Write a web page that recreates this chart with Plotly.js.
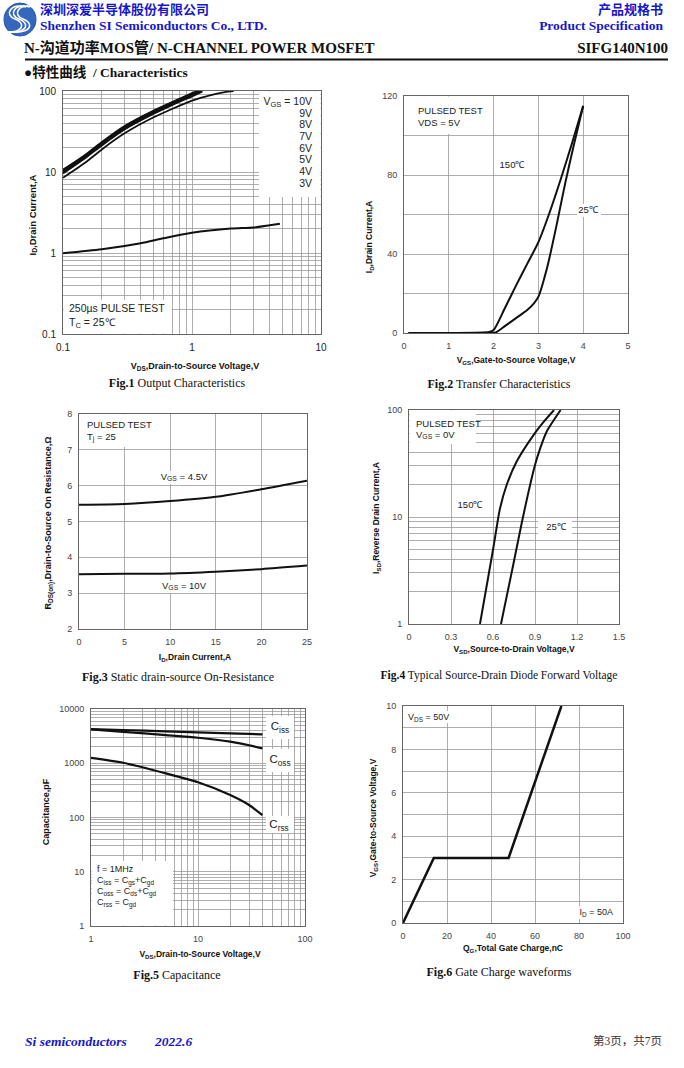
<!DOCTYPE html>
<html><head><meta charset="utf-8">
<script src="https://cdn.plot.ly/plotly-3.0.1.min.js"></script>
<style>
html,body{margin:0;padding:0;background:#fff}
#page{position:relative;width:684px;height:1068px;overflow:hidden}
#chart{position:absolute;left:0;top:0;width:684px;height:1068px}
#overlay{position:absolute;left:0;top:0;width:684px;height:1068px;pointer-events:none}
.t{position:absolute;white-space:nowrap;line-height:1.15}
.t sub{font-size:72%;vertical-align:-0.28em;line-height:0}
</style>
</head><body><div id="page"><div id="chart"></div><div id="overlay"></div></div>
<script>
// ---------------- DATA ----------------
// Fig.1 Output characteristics (log-log)
const fig1_vds = [0.1, 0.15, 0.2, 0.3, 0.5, 0.7, 1.0, 1.2];
const fig1_id_10V = [10.7, 16.5, 23.5, 37.0, 57, 73.0, 94.0, 106];
const fig1_id_9V  = [10.5, 16.2, 23.0, 36.3, 56, 72.0, 92.5, 104];
const fig1_id_8V  = [10.3, 15.9, 22.6, 35.6, 55, 70.5, 91.0, 103];
const fig1_id_7V  = [10.1, 15.6, 22.2, 35.0, 54, 69.5, 89.5, 101];
const fig1_id_6V  = [9.9, 15.3, 21.8, 34.3, 53, 68.0, 88.0, 100];
const fig1_id_5V  = [9.6, 15.0, 21.3, 33.5, 52, 67.0, 86.0, 98];
const fig1_vds_4V = [0.1, 0.15, 0.2, 0.3, 0.5, 0.7, 1.0, 1.4, 1.8, 2.1];
const fig1_id_4V  = [8.5, 13.2, 19.0, 30.0, 47, 60, 76, 89, 97, 100];
const fig1_vds_3V = [0.1, 0.2, 0.4, 0.6, 1.0, 2.0, 3.0, 4.0, 4.8];
const fig1_id_3V  = [0.99, 1.11, 1.32, 1.52, 1.78, 2.0, 2.06, 2.2, 2.3];
const fig1_labels = ['V<sub>GS</sub> = 10V', '9V', '8V', '7V', '6V', '5V', '4V', '3V'];
const fig1_xticks = [0.1, 1, 10];
const fig1_yticks = [0.1, 1, 10, 100];
const fig1_xgrid = [0.2,0.3,0.4,0.5,0.6,0.7,0.8,0.9,2,3,4,5,6,7,8,9];
const fig1_ygrid = [0.2,0.3,0.4,0.5,0.6,0.7,0.8,0.9,2,3,4,5,6,7,8,9,20,30,40,50,60,70,80,90];

// Fig.2 Transfer characteristics
const fig2_vgs_150 = [0.1, 1.0, 1.9, 2.0, 2.25, 2.5, 2.75, 3.0, 3.25, 3.5, 3.75, 4.0];
const fig2_id_150  = [0, 0, 0.5, 1.5, 12.5, 24, 35, 46, 61, 78, 96, 115];
const fig2_vgs_25  = [0.1, 1.0, 1.9, 2.05, 2.25, 2.5, 2.75, 2.9, 3.0, 3.2, 3.4, 3.6, 3.8, 4.0];
const fig2_id_25   = [0, 0, 0, 0.3, 3.5, 7.5, 11.6, 15, 18.4, 33.6, 54, 76, 96, 115];
const fig2_xticks = [0, 1, 2, 3, 4, 5];
const fig2_yticks = [0, 40, 80, 120];
const fig2_ygrid = [20, 60, 100];

// Fig.3 On-resistance
const fig3_id = [0, 5, 10, 15, 20, 25];
const fig3_r_4v5 = [5.47, 5.49, 5.57, 5.69, 5.90, 6.14];
const fig3_r_10v = [3.53, 3.54, 3.55, 3.60, 3.67, 3.77];
const fig3_xticks = [0, 5, 10, 15, 20, 25];
const fig3_yticks = [2, 3, 4, 5, 6, 7, 8];

// Fig.4 Source-drain diode forward voltage
const fig4_vsd_150 = [0.507, 0.602, 0.650, 0.698, 0.769, 0.888, 0.96, 1.036];
const fig4_is_150  = [1, 5.1, 12, 20, 33, 58, 77, 100];
const fig4_vsd_25  = [0.657, 0.745, 0.817, 0.900, 0.94, 0.983, 1.083];
const fig4_is_25   = [1, 3.6, 10.4, 30.6, 45, 62.7, 100];
const fig4_xticks = [0, 0.3, 0.6, 0.9, 1.2, 1.5];
const fig4_xlabels = ['0', '0.3', '0.6', '0.9', '1.2', '1.5'];
const fig4_yticks = [1, 10, 100];
const fig4_ygrid = [2,3,4,5,6,7,8,9,20,30,40,50,60,70,80,90];

// Fig.5 Capacitance
const fig5_vds  = [1, 2, 5, 10, 20, 30, 40];
const fig5_ciss = [4270, 4100, 3880, 3720, 3560, 3470, 3415];
const fig5_coss = [4200, 3800, 3300, 2950, 2500, 2150, 1880];
const fig5_crss = [1260, 1020, 650, 445, 260, 170, 111];
const fig5_xticks = [1, 10, 100];
const fig5_yticks = [1, 10, 100, 1000, 10000];
const fig5_xgrid = [2,3,4,5,6,7,8,9,20,30,40,50,60,70,80,90];
const fig5_ygrid = [2,3,4,5,6,7,8,9,20,30,40,50,60,70,80,90,200,300,400,500,600,700,800,900,2000,3000,4000,5000,6000,7000,8000,9000];

// Fig.6 Gate charge
const fig6_qg  = [0, 14, 48, 72];
const fig6_vgs = [0, 3, 3, 10];
const fig6_xticks = [0, 20, 40, 60, 80, 100];
const fig6_yticks = [0, 2, 4, 6, 8, 10];
const fig6_ygrid = [1, 3, 5, 7, 9];

// ---------------- HELPERS ----------------
const W = 684, H = 1068;
const X = p => p / W, Y = p => 1 - p / H;
const SANS = '"Liberation Sans", Arial, Helvetica, sans-serif';
const SERIF = '"Liberation Serif", "Times New Roman", "Noto Sans CJK SC", serif';
const CJK = '"Noto Sans CJK SC", "Liberation Serif", sans-serif';
const BLUE = '#1616cc';
const GRID = '#9a9a9a';

// plot areas in page pixels: [left, right, top, bottom]
const P = {1:[63,321,91,334], 2:[404,628,96,333], 3:[79,307,414,629], 4:[409,619,410,624], 5:[91,305,709,926], 6:[403,623,706,923]};
const dom = k => ({x:[X(P[k][0]), X(P[k][1])], y:[Y(P[k][3]), Y(P[k][2])]});
const xr = k => k === 1 ? 'x' : 'x' + k;
const yr = k => k === 1 ? 'y' : 'y' + k;

function ax(k, isX, ticks, labels, minorVals, extra) {
  const d = dom(k);
  const a = {
    domain: isX ? d.x : d.y,
    anchor: isX ? yr(k) : xr(k),
    showline: true, mirror: true, linecolor: '#666', linewidth: 1,
    showgrid: true, gridcolor: GRID, gridwidth: 0.8, zeroline: false,
    ticks: 'outside', ticklen: 4, tickcolor: 'rgba(0,0,0,0)',
    tickfont: {family: SANS, size: 9, color: '#444'},
    tickmode: 'array', tickvals: ticks, ticktext: labels || ticks.map(String),
    fixedrange: true
  };
  if (minorVals) a.minor = {tickmode: 'array', tickvals: minorVals, showgrid: true, gridcolor: GRID, gridwidth: 0.8, ticks: ''};
  return Object.assign(a, extra || {});
}

function tr(x, y, k, width, shape) {
  return {x, y, xaxis: xr(k), yaxis: yr(k), mode: 'lines', hoverinfo: 'skip', showlegend: false,
    line: {color: '#111', width: width, shape: shape || 'spline', smoothing: 0.7}};
}

// white label boxes, in page pixels
function box(x0, x1, y0, y1) {
  return {type: 'rect', xref: 'paper', yref: 'paper',
    x0: X(x0), x1: X(x1), y0: Y(y1), y1: Y(y0),
    fillcolor: '#fff', line: {width: 0}};
}

// text labels as positioned page text
const overlay = document.getElementById('overlay');
function lbl(html, x, y, o) {
  o = o || {};
  const d = document.createElement('div');
  d.className = 't';
  d.innerHTML = html;
  const a = o.xa || 'center';
  const tx = a === 'left' ? '0' : (a === 'right' ? '-100%' : '-50%');
  d.style.left = x + 'px';
  d.style.top = y + 'px';
  d.style.transform = o.rot ? 'translate(-50%,-50%) rotate(-90deg)' : 'translate(' + tx + ',-50%)';
  d.style.transformOrigin = '50% 50%';
  d.style.fontFamily = o.family || SANS;
  d.style.fontSize = (o.size || 10) + 'px';
  d.style.color = o.color || '#222';
  overlay.appendChild(d);
}

// ---------------- TRACES ----------------
const data = [
  tr(fig1_vds, fig1_id_10V, 1, 1.8), tr(fig1_vds, fig1_id_9V, 1, 1.8), tr(fig1_vds, fig1_id_8V, 1, 1.8),
  tr(fig1_vds, fig1_id_7V, 1, 1.8), tr(fig1_vds, fig1_id_6V, 1, 1.8), tr(fig1_vds, fig1_id_5V, 1, 1.8),
  tr(fig1_vds_4V, fig1_id_4V, 1, 1.8), tr(fig1_vds_3V, fig1_id_3V, 1, 2),
  tr(fig2_vgs_150, fig2_id_150, 2, 2), tr(fig2_vgs_25, fig2_id_25, 2, 2),
  tr(fig3_id, fig3_r_4v5, 3, 2), tr(fig3_id, fig3_r_10v, 3, 2),
  tr(fig4_vsd_150, fig4_is_150, 4, 2), tr(fig4_vsd_25, fig4_is_25, 4, 2),
  tr(fig5_vds, fig5_ciss, 5, 2.2), tr(fig5_vds, fig5_coss, 5, 2.2), tr(fig5_vds, fig5_crss, 5, 2.2),
  tr(fig6_qg, fig6_vgs, 6, 2.5, 'linear')
];

// ---------------- SHAPES ----------------
const shapes = [
  box(259, 320.5, 91.6, 197), box(63.6, 172, 300, 333.4),
  box(404.6, 480, 96.6, 134),
  box(79.6, 152, 414.6, 447),
  box(409.6, 476, 410.6, 444), box(538, 572, 520, 535),
  box(266, 294, 716, 739), box(266, 294, 749, 772), box(266, 294, 816, 833), box(91.6, 173, 861, 925.4),
  box(405, 452, 711, 723), box(577, 618, 906, 919),
  box(577, 601, 204, 217), box(163, 206, 471, 484), box(163, 206, 580, 593),
  // header rule
  {type: 'line', xref: 'paper', yref: 'paper', x0: X(25), x1: X(668), y0: Y(59.5), y1: Y(59.5), line: {color: '#111', width: 2.2}},
  // logo
  {type: 'circle', xref: 'paper', yref: 'paper', x0: X(4), x1: X(36), y0: Y(36), y1: Y(3), fillcolor: '#3567bd', line: {color: '#2a58a8', width: 1}}
];
[-4, 0, 4].forEach(d => {
  const p = (x, y) => X(x + d).toFixed(5) + ',' + Y(y).toFixed(5);
  shapes.push({type: 'path', xref: 'paper', yref: 'paper',
    path: 'M' + p(30, 7) + ' C' + p(14, 3) + ' ' + p(8, 15) + ' ' + p(19, 19) + ' C' + p(30, 23) + ' ' + p(28, 33) + ' ' + p(9, 32),
    line: {color: '#fff', width: 1.6}});
});

// ---------------- LAYOUT ----------------
const F1 = {tickfont: {family: SANS, size: 10, color: '#222'}};
const layout = {
  width: W, height: H, margin: {l: 0, r: 0, t: 0, b: 0},
  paper_bgcolor: '#fff', plot_bgcolor: '#fff', showlegend: false,
  font: {family: SANS},
  xaxis:  ax(1, true,  fig1_xticks, null, fig1_xgrid, Object.assign({type: 'log', range: [-1, 1]}, F1)),
  yaxis:  ax(1, false, fig1_yticks, null, fig1_ygrid, Object.assign({type: 'log', range: [-1, 2]}, F1)),
  xaxis2: ax(2, true,  fig2_xticks, null, null, {range: [0, 5]}),
  yaxis2: ax(2, false, fig2_yticks, null, fig2_ygrid, {range: [0, 120]}),
  xaxis3: ax(3, true,  fig3_xticks, null, null, {range: [0, 25]}),
  yaxis3: ax(3, false, fig3_yticks, null, null, {range: [2, 8]}),
  xaxis4: ax(4, true,  fig4_xticks, fig4_xlabels, null, {range: [0, 1.5]}),
  yaxis4: ax(4, false, fig4_yticks, null, fig4_ygrid, {type: 'log', range: [0, 2]}),
  xaxis5: ax(5, true,  fig5_xticks, null, fig5_xgrid, {type: 'log', range: [0, 2]}),
  yaxis5: ax(5, false, fig5_yticks, null, fig5_ygrid, {type: 'log', range: [0, 4]}),
  xaxis6: ax(6, true,  fig6_xticks, null, null, {range: [0, 100]}),
  yaxis6: ax(6, false, fig6_yticks, null, fig6_ygrid, {range: [0, 10]}),
  shapes: shapes
};

Plotly.newPlot('chart', data, layout, {staticPlot: true, displayModeBar: false});

// ---------------- TEXTS ----------------
// header
lbl('<b>深圳深爱半导体股份有限公司</b>', 40, 9, {xa: 'left', family: CJK, size: 13, color: BLUE});
lbl('<b>Shenzhen SI Semiconductors Co., LTD.</b>', 40, 26, {xa: 'left', family: SERIF, size: 13.5, color: BLUE});
lbl('<b>产品规格书</b>', 663, 9, {xa: 'right', family: CJK, size: 13, color: BLUE});
lbl('<b>Product Specification</b>', 663, 26, {xa: 'right', family: SERIF, size: 13.5, color: BLUE});
lbl('<b>N-沟道功率MOS管/ N-CHANNEL POWER MOSFET</b>', 24, 49, {xa: 'left', family: SERIF, size: 15, color: '#111'});
lbl('<b>SIFG140N100</b>', 668, 49, {xa: 'right', family: SERIF, size: 15, color: '#111'});
lbl('<b>●特性曲线&nbsp;&nbsp;/ Characteristics</b>', 24, 73, {xa: 'left', family: SERIF, size: 13.5, color: '#111'});
// footer
lbl('<b><i>Si semiconductors</i></b>', 25, 1042, {xa: 'left', family: SERIF, size: 13.5, color: BLUE});
lbl('<b><i>2022.6</i></b>', 155, 1042, {xa: 'left', family: SERIF, size: 13.5, color: BLUE});
lbl('第3页，共7页', 662, 1042, {xa: 'right', family: SERIF, size: 11.5, color: '#333'});

// captions
lbl('<b>Fig.1</b> Output Characteristics', 177, 384, {family: SERIF, size: 12, color: '#111'});
lbl('<b>Fig.2</b> Transfer Characteristics', 499, 385, {family: SERIF, size: 12, color: '#111'});
lbl('<b>Fig.3</b> Static drain-source On-Resistance', 178, 678, {family: SERIF, size: 12, color: '#111'});
lbl('<b>Fig.4</b> Typical Source-Drain Diode Forward Voltage', 499, 676, {family: SERIF, size: 11.5, color: '#111'});
lbl('<b>Fig.5</b> Capacitance', 177, 976, {family: SERIF, size: 12, color: '#111'});
lbl('<b>Fig.6</b> Gate Charge waveforms', 499, 973, {family: SERIF, size: 12, color: '#111'});

// axis titles
lbl('<b>V<sub>DS</sub>,Drain-to-Source Voltage,V</b>', 195, 366, {size: 9, color: '#111'});
lbl('<b>I<sub>D</sub>,Drain Current,A</b>', 33, 215, {rot: true, size: 9.5, color: '#111'});
lbl('<b>V<sub>GS</sub>,Gate-to-Source Voltage,V</b>', 516, 361, {size: 8.5, color: '#111'});
lbl('<b>I<sub>D</sub>,Drain Current,A</b>', 370, 237, {rot: true, size: 8.5, color: '#111'});
lbl('<b>I<sub>D</sub>,Drain Current,A</b>', 195, 658, {size: 8.5, color: '#111'});
lbl('<b>R<sub>DS(on)</sub>,Drain-to-Source On Resistance,Ω</b>', 48, 523, {rot: true, size: 9, color: '#111'});
lbl('<b>V<sub>SD</sub>,Source-to-Drain Voltage,V</b>', 514, 650, {size: 8.5, color: '#111'});
lbl('<b>I<sub>SD</sub>,Reverse Drain Current,A</b>', 377, 518, {rot: true, size: 8.5, color: '#111'});
lbl('<b>V<sub>DS</sub>,Drain-to-Source Voltage,V</b>', 200, 955, {size: 8.5, color: '#111'});
lbl('<b>Capacitance,pF</b>', 46, 812, {rot: true, size: 9, color: '#111'});
lbl('<b>Q<sub>G</sub>,Total Gate Charge,nC</b>', 513, 949, {size: 8.5, color: '#111'});
lbl('<b>V<sub>GS</sub>,Gate-to-Source Voltage,V</b>', 374, 818, {rot: true, size: 8.5, color: '#111'});

// in-plot labels
const legY = [101, 113, 124, 136, 148, 159, 171, 183];
fig1_labels.forEach((t, i) => lbl(t, 312, legY[i], {xa: 'right', size: 10.5}));
lbl('250µs PULSE TEST', 69, 308, {xa: 'left', size: 10.5});
lbl('T<sub>C</sub> = 25℃', 69, 322, {xa: 'left', size: 10.5});

lbl('PULSED TEST', 418, 111, {xa: 'left', size: 9.5});
lbl('VDS = 5V', 418, 123, {xa: 'left', size: 9.5});
lbl('150℃', 512, 165, {size: 9.5});
lbl('25℃', 588, 210, {size: 9.5});

lbl('PULSED TEST', 87, 425, {xa: 'left', size: 9.5});
lbl('T<sub>j</sub> = 25', 87, 437, {xa: 'left', size: 9.5});
lbl('V<sub>GS</sub> = 4.5V', 184, 477, {size: 9.5});
lbl('V<sub>GS</sub> = 10V', 184, 586, {size: 9.5});

lbl('PULSED TEST', 416, 424, {xa: 'left', size: 9.5});
lbl('V<sub>GS</sub> = 0V', 416, 435, {xa: 'left', size: 9.5});
lbl('150℃', 470, 505, {size: 9.5});
lbl('25℃', 556, 527, {size: 9.5});

lbl('C<sub>iss</sub>', 280, 727, {size: 11.5});
lbl('C<sub>oss</sub>', 280, 760, {size: 11.5});
lbl('C<sub>rss</sub>', 279, 825, {size: 11.5});
lbl('f = 1MHz', 97, 869, {xa: 'left', size: 9});
lbl('C<sub>iss</sub> = C<sub>gs</sub>+C<sub>gd</sub>', 97, 880, {xa: 'left', size: 9});
lbl('C<sub>oss</sub> = C<sub>ds</sub>+C<sub>gd</sub>', 97, 891, {xa: 'left', size: 9});
lbl('C<sub>rss</sub> = C<sub>gd</sub>', 97, 902, {xa: 'left', size: 9});

lbl('V<sub>DS</sub> = 50V', 408, 717, {xa: 'left', size: 9});
lbl('I<sub>D</sub> = 50A', 613, 912, {xa: 'right', size: 9});
</script></body></html>
